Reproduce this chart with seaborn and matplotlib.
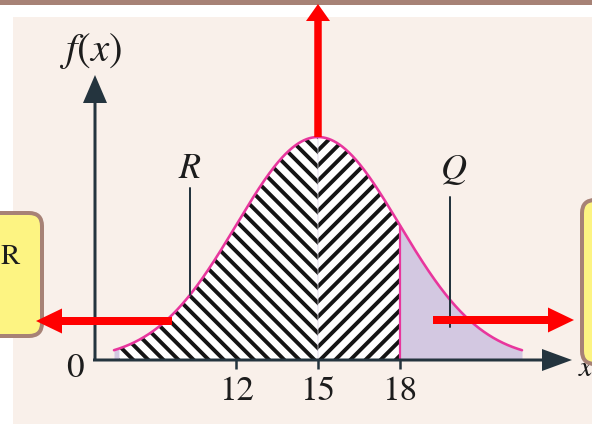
import numpy as np
import pandas as pd
import matplotlib
matplotlib.use("Agg")
import matplotlib.pyplot as plt
import seaborn as sns
from matplotlib.patches import FancyBboxPatch, Rectangle
from matplotlib.transforms import IdentityTransform

# Normal distribution shown in the sketch
mu = 15
sigma = 3
curve_range = [7.5, 22.5]
hatch_range = [7.7, 18]
tick_values = [12, 15, 18]
tick_labels = ["12", "15", "18"]
r_pos = 10.3
q_pos = 19.85
point_labels = ["R", "Q"]

W, H = 592, 424
DPI = 136


def pt(px):
    """pixels -> points"""
    return px * 72 / DPI


def pdf(x):
    return np.exp(-0.5 * ((x - mu) / sigma) ** 2) / (sigma * np.sqrt(2 * np.pi))


# pixel layout of the drawing area (x: data units per pixel, y: baseline/peak rows)
PX15, PX_PER_UNIT = 318, 27.2
BASE_ROW, PEAK_ROW = 360, 137
K = (BASE_ROW - PEAK_ROW) / pdf(mu)


def dx(px):
    return mu + (px - PX15) / PX_PER_UNIT


def dy(py):
    return (BASE_ROW - py) / K


def disp(px, py):
    return px, H - py


sns.set_theme(style="white")
plt.rcParams["mathtext.fontset"] = "stix"
plt.rcParams["hatch.linewidth"] = pt(3.9)
plt.rcParams["hatch.color"] = "#141414"

INK = "#24343e"
PINK = "#e8369d"
LILAC = "#d3c8e1"
BEIGE = "#f9f0ea"
BROWN = "#a78276"
YELLOW = "#fdf482"
SERIF = "STIXGeneral"

fig = plt.figure(figsize=(W / DPI, H / DPI), dpi=DPI, facecolor="white")
ax = fig.add_axes([0, 0, 1, 1])
ax.set_facecolor("none")
for s in ax.spines.values():
    s.set_visible(False)
ax.spines["bottom"].set_position(("data", 0))

# page decoration
ident = IdentityTransform()
ax.add_artist(Rectangle(disp(0, 5), W, 5, transform=ident, color=BROWN, lw=0, zorder=-10, clip_on=False))
ax.add_artist(Rectangle(disp(13, H), W, H - 17, transform=ident, color=BEIGE, lw=0, zorder=-10, clip_on=False))

# density curve and shaded areas
xs = np.linspace(curve_range[0], curve_range[1], 600)
df = pd.DataFrame({"x": xs, "density": pdf(xs)})

ax.fill_between(df["x"], 0, df["density"], color=LILAC, lw=0, zorder=1)
left = df[(df["x"] >= hatch_range[0]) & (df["x"] <= mu)]
right = df[(df["x"] >= mu) & (df["x"] <= hatch_range[1])]
ax.fill_between(left["x"], 0, left["density"], facecolor="white", edgecolor="#141414",
                hatch="\\\\\\", lw=0, zorder=2)
ax.fill_between(right["x"], 0, right["density"], facecolor="white", edgecolor="#141414",
                hatch="///", lw=0, zorder=2)
ax.vlines(hatch_range[1], 0, pdf(hatch_range[1]), color=PINK, lw=pt(2.2), zorder=3)
sns.lineplot(data=df, x="x", y="density", color=PINK, lw=pt(2.6), ax=ax, zorder=4)

# R and Q markers
ax.plot([r_pos, r_pos], [dy(188), pdf(r_pos)], color=INK, lw=pt(2), zorder=5)
ax.plot([q_pos, q_pos], [dy(197), dy(327)], color=INK, lw=pt(2), zorder=5)
ax.text(r_pos, dy(168), f"${point_labels[0]}$", fontsize=pt(36), color="#1c1c1c",
        ha="center", va="center", zorder=6)
ax.text(q_pos + 0.15, dy(170), f"${point_labels[1]}$", fontsize=pt(36), color="#1c1c1c",
        ha="center", va="center", zorder=6)


def arrow(x0, y0, x1, y1, color, tail, head_w, head_l, z):
    ax.annotate("", xy=(x1, y1), xytext=(x0, y0), zorder=z,
                arrowprops=dict(arrowstyle=f"simple,head_length={head_l},head_width={head_w},tail_width={tail}",
                                color=color, lw=0, shrinkA=0, shrinkB=0, mutation_scale=pt(1)))


# coordinate axes
arrow(dx(95), dy(361), dx(95), dy(75), INK, 3, 24, 28, 7)
arrow(dx(93), 0, dx(572), 0, INK, 3, 22, 30, 7)
ax.set_xticks(tick_values, tick_labels)
ax.set_yticks([])
ax.tick_params(axis="x", bottom=True, direction="out", length=pt(9), width=pt(2.5),
               color=INK, pad=pt(7), labelsize=pt(35), labelcolor="#1c1c1c")
for lab in ax.get_xticklabels():
    lab.set_fontfamily(SERIF)
ax.text(dx(75), dy(369), "0", fontsize=pt(35), fontfamily=SERIF, color="#1c1c1c",
        ha="center", va="center")
ax.text(dx(90), dy(51), "$f(x)$", fontsize=pt(41), color="#1c1c1c", ha="center", va="center")
ax.text(dx(586), dy(367), "$x$", fontsize=pt(30), color="#1c1c1c", ha="center", va="center")

# callout boxes
ax.add_artist(FancyBboxPatch(disp(-40, 336), 82, 123, boxstyle="round,pad=0,rounding_size=13",
                             transform=ident, facecolor=YELLOW, edgecolor=BROWN, lw=pt(4),
                             zorder=8, clip_on=False))
ax.add_artist(FancyBboxPatch(disp(582, 364), 80, 164, boxstyle="round,pad=0,rounding_size=13",
                             transform=ident, facecolor=YELLOW, edgecolor=BROWN, lw=pt(4),
                             zorder=8, clip_on=False))
ax.text(dx(0.5), dy(257), "R", fontsize=pt(29), fontfamily=SERIF, color="#1c1c1c",
        ha="left", va="center", zorder=9)

# red pointers
arrow(mu, pdf(mu), mu, dy(4), "red", 7.5, 24, 17, 10)
arrow(dx(172), dy(321), dx(36), dy(321), "red", 8, 25, 26, 10)
arrow(dx(433), dy(320), dx(574), dy(320), "red", 8, 25, 26, 10)

ax.set_xlim(dx(0), dx(W))
ax.set_ylim(dy(H), dy(0))
ax.set_xlabel("")
ax.set_ylabel("")

fig.savefig("out.png", dpi=DPI)
